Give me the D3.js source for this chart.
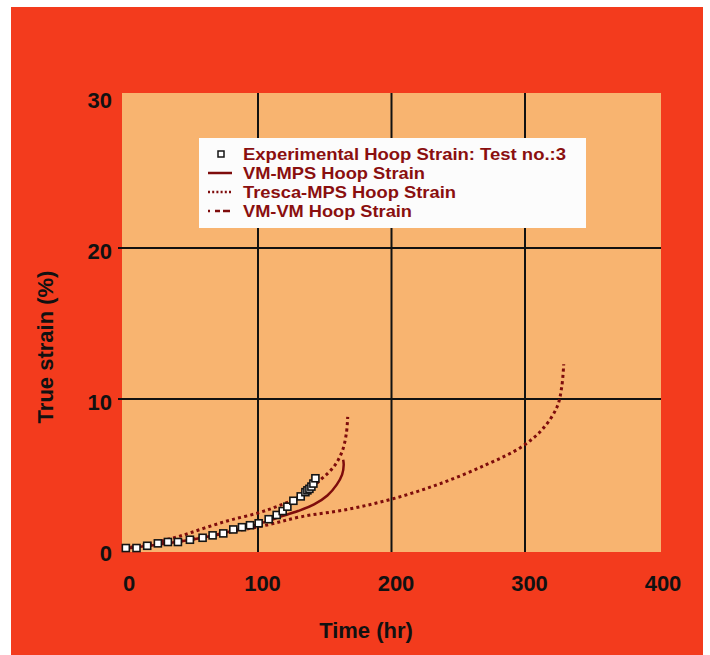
<!DOCTYPE html>
<html><head><meta charset="utf-8">
<script src="https://cdn.jsdelivr.net/npm/d3@7"></script>
<style>html,body{margin:0;padding:0;background:#fff;}svg{display:block;}</style>
</head><body>
<svg id="c" width="710" height="655"></svg>
<script>
// ---- data ----
const xTicks = [0, 100, 200, 300, 400];
const yTicks = [0, 10, 20, 30];
const legendLabels = ["Experimental Hoop Strain: Test no.:3", "VM-MPS Hoop Strain", "Tresca-MPS Hoop Strain", "VM-VM Hoop Strain"];
const expTime   = [1, 9, 17, 25, 32.5, 40, 49, 58.5, 66, 74, 81.5, 88, 94, 100.5, 108, 114, 118.5, 122, 126.5, 132, 135.5, 137, 138.5, 140, 141.5, 143];
const expStrain = [0.13, 0.13, 0.28, 0.44, 0.53, 0.53, 0.68, 0.81, 0.97, 1.10, 1.36, 1.51, 1.64, 1.77, 2.04, 2.32, 2.58, 2.87, 3.26, 3.55, 3.83, 3.95, 4.05, 4.2, 4.4, 4.75];
const vmMpsTime   = [0, 20, 40, 60, 80, 100, 110, 117, 130, 142, 152, 159, 163, 164.2, 163.8];
const vmMpsStrain = [0.1, 0.3, 0.55, 0.85, 1.25, 1.7, 2.0, 2.21, 2.58, 3.02, 3.61, 4.33, 4.99, 5.65, 5.97];
const trescaTime   = [0, 50, 80, 107, 132, 167, 201, 236, 271, 297, 313, 324, 327.5, 329];
const trescaStrain = [0.1, 0.7, 1.2, 1.66, 2.2, 2.69, 3.39, 4.38, 5.65, 6.81, 7.99, 9.47, 10.79, 12.3];
const vmVmTime   = [0, 20, 38, 50, 65, 80, 100, 115, 132, 147, 157, 163, 166.2, 167.2];
const vmVmStrain = [0.1, 0.45, 0.83, 1.16, 1.6, 2.0, 2.45, 2.91, 3.57, 4.66, 5.54, 6.52, 7.73, 8.82];

// ---- drawing ----
const svg = d3.select("#c");
const curveCol = "#7e0c0c";
const textCol = "#8a0f0f";
const font = "Liberation Sans, Arial, sans-serif";
svg.append("rect").attr("x", 11).attr("y", 7).attr("width", 692).attr("height", 648).attr("fill", "#f33b1d");

const x = d3.scaleLinear().domain([0, 400]).range([124.5, 658.5]);
const y = d3.scaleLinear().domain([0, 30]).range([550, 97]);

svg.append("rect").attr("x", 122).attr("y", 93).attr("width", 539).attr("height", 459).attr("fill", "#f8b470");

const g = svg.append("g");
g.selectAll("line.vg").data(xTicks.filter(d => d > 0 && d < 400)).join("line")
  .attr("x1", d => x(d)).attr("x2", d => x(d)).attr("y1", 93).attr("y2", 552)
  .attr("stroke", "#111").attr("stroke-width", 2);
g.selectAll("line.hg").data(yTicks.filter(d => d > 0 && d < 30)).join("line")
  .attr("x1", 118).attr("x2", 661).attr("y1", d => y(d)).attr("y2", d => y(d))
  .attr("stroke", "#111").attr("stroke-width", 2);

const xAxis = svg.append("g").attr("transform", "translate(4,0)")
  .call(d3.axisBottom(x).tickValues(xTicks).tickSize(0).tickPadding(0));
xAxis.select(".domain").remove();
xAxis.selectAll("text").attr("y", 591).attr("dy", 0)
  .attr("font-family", font).attr("font-weight", "bold")
  .attr("font-size", 22).attr("fill", "#111");

const yAxis = svg.append("g").attr("transform", "translate(112,3)")
  .call(d3.axisLeft(y).tickValues(yTicks).tickSize(0).tickPadding(0));
yAxis.select(".domain").remove();
yAxis.selectAll("text").attr("x", 0).attr("dy", "0.36em")
  .attr("font-family", font).attr("font-weight", "bold")
  .attr("font-size", 22).attr("fill", "#111");

svg.append("text").attr("x", 366).attr("y", 638).attr("text-anchor", "middle")
  .attr("font-family", font).attr("font-weight", "bold")
  .attr("font-size", 22).attr("fill", "#111").text("Time (hr)");
svg.append("text").attr("transform", "translate(53,347) rotate(-90)").attr("text-anchor", "middle")
  .attr("font-family", font).attr("font-weight", "bold")
  .attr("font-size", 22).attr("fill", "#111").text("True strain (%)");

const line = d3.line().x(d => x(d[0])).y(d => y(d[1])).curve(d3.curveCatmullRom.alpha(0.5));
const zip = (a, b) => a.map((v, i) => [v, b[i]]);
svg.append("path").datum(zip(trescaTime, trescaStrain)).attr("d", line)
  .attr("fill", "none").attr("stroke", curveCol).attr("stroke-width", 3).attr("stroke-dasharray", "3,3.2");
svg.append("path").datum(zip(vmVmTime, vmVmStrain)).attr("d", line)
  .attr("fill", "none").attr("stroke", curveCol).attr("stroke-width", 3).attr("stroke-dasharray", "3,3.2");
svg.append("path").datum(zip(vmMpsTime, vmMpsStrain)).attr("d", line)
  .attr("fill", "none").attr("stroke", curveCol).attr("stroke-width", 2.5);

svg.selectAll("rect.exp").data(zip(expTime, expStrain)).join("rect")
  .attr("class", "exp")
  .attr("x", d => x(d[0]) - 3.5).attr("y", d => y(d[1]) - 3.5)
  .attr("width", 7).attr("height", 7)
  .attr("fill", "#fff").attr("stroke", "#151515").attr("stroke-width", 1.6);

// legend
const lg = svg.append("g");
lg.append("rect").attr("x", 199).attr("y", 138).attr("width", 387).attr("height", 90).attr("fill", "#fcfcfc");
const rowY = [154, 173, 192, 211];
const rowW = [323, 182, 213, 169];
lg.selectAll("text").data(legendLabels).join("text")
  .attr("x", 243).attr("y", (d, i) => rowY[i]).attr("dy", "0.36em")
  .attr("font-family", font).attr("font-weight", "bold")
  .attr("font-size", 16.5).attr("fill", textCol)
  .attr("textLength", (d, i) => rowW[i]).attr("lengthAdjust", "spacingAndGlyphs")
  .text(d => d);
lg.append("rect").attr("x", 218).attr("y", rowY[0] - 3).attr("width", 6).attr("height", 6)
  .attr("fill", "#fff").attr("stroke", "#151515").attr("stroke-width", 1.5);
lg.append("line").attr("x1", 208).attr("x2", 232).attr("y1", rowY[1]).attr("y2", rowY[1])
  .attr("stroke", curveCol).attr("stroke-width", 2.5);
lg.append("line").attr("x1", 208).attr("x2", 232).attr("y1", rowY[2]).attr("y2", rowY[2])
  .attr("stroke", curveCol).attr("stroke-width", 2.5).attr("stroke-dasharray", "2,2.2");
lg.append("line").attr("x1", 208).attr("x2", 232).attr("y1", rowY[3]).attr("y2", rowY[3])
  .attr("stroke", curveCol).attr("stroke-width", 2.5).attr("stroke-dasharray", "2,5,5,3,5,0");
</script>
</body></html>
